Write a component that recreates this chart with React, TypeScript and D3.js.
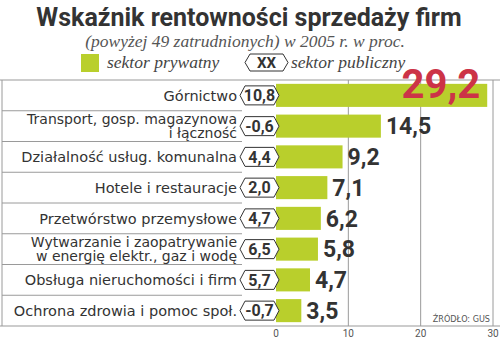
import React from "react";
import * as d3 from "d3";

const categories = [
  ["Górnictwo"],
  ["Transport, gosp. magazynowa", "i łączność"],
  ["Działalność usług. komunalna"],
  ["Hotele i restauracje"],
  ["Przetwórstwo przemysłowe"],
  ["Wytwarzanie i zaopatrywanie", "w energię elektr., gaz i wodę"],
  ["Obsługa nieruchomości i firm"],
  ["Ochrona zdrowia i pomoc społ."],
];
const privateValues = [29.2, 14.5, 9.2, 7.1, 6.2, 5.8, 4.7, 3.5];
const publicValues = [10.8, -0.6, 4.4, 2.0, 4.7, 6.5, 5.7, -0.7];
const xTicks = [0, 10, 20, 30];

const W = 500;
const H = 338;
const GREEN = "#b9cf2c";
const RED = "#cc3347";
const DARK = "#333333";
const GRID = "#9a9a9a";

const fmt = (v: number) => v.toFixed(1).replace(".", ",");

function Tag({ x0, x1, cy, h, label, size }: { x0: number; x1: number; cy: number; h: number; label: string; size: number }) {
  const t = cy - h / 2;
  const b = cy + h / 2;
  const pts = [
    [x0, cy],
    [x0 + 5, t],
    [x1 - 5, t],
    [x1, cy],
    [x1 - 5, b],
    [x0 + 5, b],
  ];
  return (
    <g>
      <polygon points={pts.map((p) => p.join(",")).join(" ")} fill="#fff" stroke={DARK} strokeWidth={1} />
      <text
        x={(x0 + x1) / 2}
        y={cy}
        dy="0.36em"
        textAnchor="middle"
        fontFamily="Roboto, sans-serif"
        fontWeight={700}
        fontSize={size}
        fill={DARK}
      >
        {label}
      </text>
    </g>
  );
}

export default function App() {
  const top = 80;
  const bottom = 326;
  const x = d3.scaleLinear().domain([0, 30]).range([276, 493]);
  const keys = categories.map((_, i) => String(i));
  const y = d3.scaleBand().domain(keys).range([top, bottom]).paddingInner(0.25).paddingOuter(0.125);
  const step = y.step();

  return (
    <svg width={W} height={H} style={{ position: "absolute", left: 0, top: 0, background: "#fff" }}>
      <text x={249} y={26} textAnchor="middle" fontFamily="Roboto, sans-serif" fontWeight={700} fontSize={25} fill={DARK}>
        Wskaźnik rentowności sprzedaży firm
      </text>
      <text x={245} y={47} textAnchor="middle" fontFamily="'Liberation Serif', serif" fontStyle="italic" fontSize={17.5} fill="#555">
        (powyżej 49 zatrudnionych) w 2005 r. w proc.
      </text>
      <rect x={81} y={54} width={18} height={18} fill={GREEN} />
      <text x={107} y={68} fontFamily="'Liberation Serif', serif" fontStyle="italic" fontSize={17.5} fill="#444">
        sektor prywatny
      </text>
      <Tag x0={245} x1={288} cy={62.5} h={17} label="XX" size={15} />
      <text x={291} y={68} fontFamily="'Liberation Serif', serif" fontStyle="italic" fontSize={17.5} fill="#444">
        sektor publiczny
      </text>

      {/* frame lines */}
      <line x1={0} x2={W} y1={top} y2={top} stroke={GRID} strokeWidth={1.2} />
      <line x1={0} x2={W} y1={bottom} y2={bottom} stroke={GRID} strokeWidth={1.2} />
      <line x1={2} x2={2} y1={top} y2={bottom} stroke={GRID} strokeWidth={1} />

      {/* grid */}
      {xTicks.map((t) => (
        <g key={t}>
          {t > 0 && <line x1={x(t)} x2={x(t)} y1={top} y2={bottom} stroke={GRID} strokeWidth={1} />}
          <text x={x(t)} y={337} textAnchor="middle" fontFamily="Roboto, sans-serif" fontSize={10} fill="#555">
            {t}
          </text>
        </g>
      ))}

      {/* row separators */}
      {keys.slice(1).map((k) => (
        <line key={k} x1={2} x2={242} y1={top + Number(k) * step} y2={top + Number(k) * step} stroke={GRID} strokeWidth={1} />
      ))}

      {/* bars */}
      {privateValues.map((v, i) => {
        const by = y(String(i))!;
        return <rect key={i} x={x(0)} y={by} width={x(v) - x(0)} height={y.bandwidth()} fill={GREEN} />;
      })}

      {/* labels & tags */}
      {categories.map((lines, i) => {
        const cy = top + (i + 0.5) * step;
        const multi = lines.length > 1;
        return (
          <g key={i}>
            {lines.map((l, j) => (
              <text
                key={j}
                x={237}
                y={cy + (j - (lines.length - 1) / 2) * 14.5}
                dy="0.36em"
                textAnchor="end"
                fontFamily="'DejaVu Sans', sans-serif"
                fontSize={multi ? 14 : 14.5}
                fill={DARK}
              >
                {l}
              </text>
            ))}
            <Tag x0={240} x1={279} cy={cy} h={19} label={fmt(publicValues[i])} size={16} />
          </g>
        );
      })}

      {/* values */}
      {privateValues.map((v, i) => {
        const cy = top + (i + 0.5) * step;
        if (i === 0) {
          return (
            <text key={i} x={x(v) - 7} y={98} textAnchor="end" fontFamily="Roboto, sans-serif" fontWeight={700} fontSize={40} fill={RED}>
              {fmt(v)}
            </text>
          );
        }
        return (
          <text key={i} x={x(v) + 5} y={cy} dy="0.36em" textAnchor="start" fontFamily="Roboto, sans-serif" fontWeight={700} fontSize={23} fill={DARK}>
            {fmt(v)}
          </text>
        );
      })}

      <text x={490} y={322} textAnchor="end" fontFamily="'DejaVu Sans Condensed', 'Liberation Sans Narrow', sans-serif" fontSize={9} fill="#555">
        ŹRÓDŁO: GUS
      </text>
    </svg>
  );
}
